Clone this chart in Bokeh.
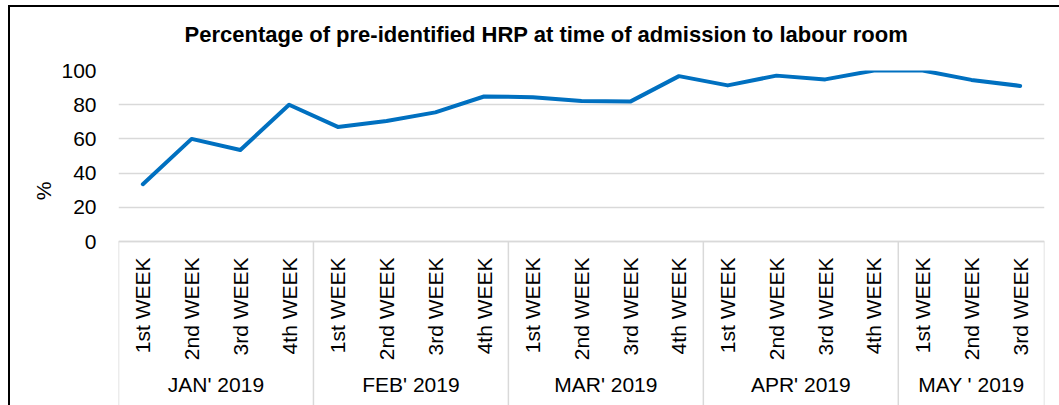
import math
from bokeh.plotting import figure
from bokeh.models import FactorRange, Range1d, FixedTicker, Title
from bokeh.embed import file_html
from bokeh.resources import INLINE

months = ["JAN' 2019", "FEB' 2019", "MAR' 2019", "APR' 2019", "MAY ' 2019"]
weeks_in_month = [
    ["1st WEEK", "2nd WEEK", "3rd WEEK", "4th WEEK"],
    ["1st WEEK", "2nd WEEK", "3rd WEEK", "4th WEEK"],
    ["1st WEEK", "2nd WEEK", "3rd WEEK", "4th WEEK"],
    ["1st WEEK", "2nd WEEK", "3rd WEEK", "4th WEEK"],
    ["1st WEEK", "2nd WEEK", "3rd WEEK"],
]
pct = [33.5, 60.0, 53.5, 80.0,
       67.0, 70.5, 75.5, 84.8,
       84.4, 82.2, 81.8, 96.7,
       91.3, 97.0, 94.8, 100.0,
       100.0, 94.5, 91.0]
y_ticks = [0, 20, 40, 60, 80, 100]

factors = [(m, w) for m, ws in zip(months, weeks_in_month) for w in ws]

FONT = "Liberation Sans"
TXT = "#000000"
GRID = "#d9d9d9"

# layout (page pixels); canvas starts a little above the page top
TOP_SHIFT = 10
FRAME_L, FRAME_R, FRAME_T, FRAME_B = 118, 1044, 70, 405
ZERO_Y = 241
px_per_unit = (ZERO_Y - FRAME_T) / 100.0
y_start = -(FRAME_B - ZERO_Y) / px_per_unit

W, H = 1059, 405 + TOP_SHIFT

p = figure(
    x_range=FactorRange(*factors, group_padding=0, factor_padding=0, range_padding=0),
    y_range=Range1d(y_start, 100),
    width=W, height=H,
    output_backend="svg", toolbar_location=None,
    min_border_left=FRAME_L, min_border_right=W - FRAME_R,
    min_border_top=FRAME_T + TOP_SHIFT, min_border_bottom=0,
    border_fill_color=None,
    # chart-area border: black 2px lines on the left (x 8-10) and top (y 5-7)
    styles={"margin-top": f"-{TOP_SHIFT}px",
            "box-shadow": f"inset 8px {5 + TOP_SHIFT}px 0 0 white, "
                          f"inset 10px {7 + TOP_SHIFT}px 0 0 black"},
)

# month separators (including both ends) below the axis
sep_x = [(m, ws[0], -0.5) for m, ws in zip(months, weeks_in_month)]
sep_x.append((months[-1], weeks_in_month[-1][-1], 0.5))
p.segment(x0=sep_x, y0=[0] * len(sep_x), x1=sep_x, y1=[y_start] * len(sep_x),
          line_color=GRID, line_width=1.5)

p.line(x=factors, y=pct, line_width=4, line_color="#0070C0", line_join="round", line_cap="round")

p.title.text = "Percentage of pre-identified HRP at time of admission to labour room"
p.title.text_font = FONT
p.title.text_font_size = "22px"
p.title.text_font_style = "bold"
p.title.text_color = TXT
p.title.align = "left"
p.title.offset = 66
p.title.vertical_align = "bottom"
p.title.standoff = 48

p.outline_line_color = None
p.xgrid.grid_line_color = None
p.ygrid.grid_line_color = GRID
p.ygrid.grid_line_width = 1.5

ya = p.yaxis[0]
ya.ticker = FixedTicker(ticks=y_ticks)
ya.axis_line_color = None
ya.major_tick_line_color = None
ya.minor_tick_line_color = None
ya.major_label_text_font = FONT
ya.major_label_text_font_size = "21px"
ya.major_label_text_color = TXT
ya.major_label_standoff = 16

# y-axis title ("%") placed beside the 0-100 part of the axis
p.add_layout(Title(text="%", align="right", offset=111, standoff=8,
                   text_font=FONT, text_font_size="21px", text_font_style="normal",
                   text_color=TXT), "left")

xa = p.xaxis[0]
xa.fixed_location = 0
xa.axis_line_color = GRID
xa.axis_line_width = 1.5
xa.major_tick_line_color = None
xa.minor_tick_line_color = None
xa.major_label_orientation = math.pi / 2
xa.major_label_text_font = FONT
xa.major_label_text_font_size = "21px"
xa.major_label_text_color = TXT
xa.major_label_standoff = 10
xa.group_text_font = FONT
xa.group_text_font_size = "21px"
xa.group_text_font_style = "normal"
xa.group_text_color = TXT
xa.separator_line_color = None

open("out.html", "w").write(file_html(p, INLINE))
